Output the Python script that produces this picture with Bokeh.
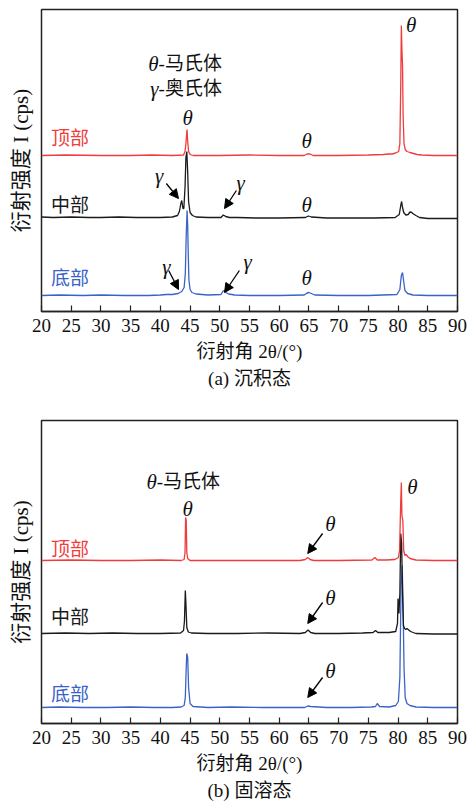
from bokeh.plotting import figure
from bokeh.layouts import column
from bokeh.models import Range1d, FixedTicker, Label, Arrow, NormalHead, Title
from bokeh.embed import file_html
from bokeh.resources import INLINE

# ---------------- data ----------------
# (a) as-deposited
a_top_x = [20, 24, 30, 35, 38.5, 42, 43.9, 44.15, 44.3, 44.4, 44.5, 44.6, 44.75, 45.0, 45.5, 50, 55, 60, 64.2, 64.7, 65.2, 65.7, 70, 75, 77.5, 78.5, 79.0, 79.6, 80.1, 80.3, 80.45, 80.55, 80.65, 80.75, 80.85, 81.0, 81.2, 81.5, 82.0, 82.6, 83.2, 84, 86, 90]
a_top_y = [0, 0.5, 0, 0, 0.5, 0, 0.5, 4, 12, 20, 26, 14, 4, 1, 0, 0, 0.5, 0, 0, 1.5, 1.5, 0, 0, 0.5, 1, 1.5, 1.5, 2.5, 4, 12, 70, 130, 105, 90, 40, 12, 6, 4, 3, 2, 1, 0.5, 0, 0]

a_mid_x = [20, 22, 25, 28, 30, 33, 36, 38, 40, 42, 42.9, 43.2, 43.45, 43.6, 43.8, 43.95, 44.15, 44.3, 44.45, 44.6, 44.75, 45.0, 45.4, 46, 48, 50.2, 50.6, 51.0, 51.6, 53, 56, 60, 64.4, 64.9, 65.4, 68, 72, 76, 79.5, 80.2, 80.45, 80.6, 80.75, 80.95, 81.3, 81.7, 82.0, 82.3, 82.6, 83.0, 83.6, 85, 87, 90]
a_mid_y = [0.5, 0, 0.5, 0, 0, 0.5, 0, 0, 0, 0.5, 2, 6, 14, 17, 9, 9, 30, 60, 66, 45, 16, 5, 2, 0.5, 0, 0, 2.5, 1, 0, 0, -0.5, -0.5, 0, 1.5, 0.5, -0.5, -0.5, -0.5, 0, 3, 12, 16, 10, 5, 2.5, 3, 5.5, 5, 3.5, 2, 0, -1, -1, -1]

a_bot_x = [20, 23, 27, 30, 34, 38, 40, 41, 42, 43, 43.6, 44.0, 44.2, 44.35, 44.5, 44.6, 44.7, 44.8, 45.0, 45.3, 46, 48, 50.2, 50.5, 50.75, 51.0, 51.5, 52.5, 55, 60, 64.2, 64.7, 65.0, 65.4, 66, 70, 75, 79.8, 80.3, 80.55, 80.75, 80.95, 81.15, 81.6, 82.5, 85, 90]
a_bot_y = [0, 0.5, 0, 0.5, 0, 0, 0.5, 1, 1, 2, 4, 8, 22, 60, 85, 70, 40, 16, 6, 3, 1.5, 0.5, 1, 4, 5, 3, 1.5, 0.5, 0, 0, 0.5, 2.5, 3, 2, 0.5, 0, 0, 1, 6, 20, 23, 14, 5, 2, 0.5, 0, 0]

# (b) solution treated
b_top_x = [20, 25, 30, 35, 40, 43.5, 44.0, 44.15, 44.25, 44.35, 44.45, 44.6, 45.0, 47, 52, 58, 63.5, 64.4, 64.8, 65.2, 65.8, 70, 75.6, 76.1, 76.5, 78, 79.5, 80.05, 80.25, 80.45, 80.55, 80.65, 80.8, 80.95, 81.15, 81.35, 81.6, 82.0, 83, 86, 90]
b_top_y = [0, 0.5, 0, 0, 0.5, 0, 1, 8, 43, 40, 8, 2, 0, 0, 0, 0, 0, 1, 3, 1, 0, 0, 0.5, 3, 0.5, 0.5, 1, 3, 10, 60, 78, 45, 40, 10, 5, 6, 4, 2, 0.5, 0, 0]

b_mid_x = [20, 24, 28, 32, 36, 40, 43.4, 43.9, 44.05, 44.2, 44.3, 44.45, 44.7, 45.2, 48, 53, 58, 63.5, 64.4, 64.85, 65.3, 66, 70, 74, 75.8, 76.2, 76.6, 78.5, 79.6, 79.9, 80.0, 80.15, 80.3, 80.45, 80.6, 80.75, 80.9, 81.1, 81.3, 81.5, 81.7, 82.1, 83, 86, 90]
b_mid_y = [0, 0.5, 0, 0.5, 0, 0, 0.5, 3, 12, 43, 30, 6, 1.5, 0.5, 0, 0, 0.5, 0, 1, 3.5, 1, 0, 0, 0.5, 1, 3, 1, 1, 2, 10, 35, 20, 40, 100, 90, 40, 8, 5, 4, 5, 4, 2, 0, -0.5, -0.5]

b_bot_x = [20, 23, 27, 31, 35, 39, 42, 43.5, 44.0, 44.2, 44.35, 44.45, 44.6, 44.75, 45.0, 45.5, 48, 52, 57, 62, 64.3, 64.8, 65.3, 68, 72, 75.5, 76.2, 76.5, 76.9, 78.5, 79.6, 80.05, 80.3, 80.5, 80.7, 80.85, 81.0, 81.2, 81.5, 82.0, 83, 86, 90]
b_bot_y = [0, 0.5, 0, 0, 0.5, 0, 0, 0.5, 2, 10, 40, 54, 50, 20, 4, 1, 0, 0.5, 0, 0, 0, 1.5, 1, 0, 0, 0.5, 1, 4, 1, 0.5, 2, 6, 30, 120, 142, 100, 40, 10, 4, 2, 0.5, 0, 0]

x_ticks = [20, 25, 30, 35, 40, 45, 50, 55, 60, 65, 70, 75, 80, 85, 90]
sample_names = ["顶部", "中部", "底部"]
x_label = "衍射角 2θ/(°)"
y_label = "衍射强度 I (cps)"
captions = ["(a) 沉积态", "(b) 固溶态"]

# ---------------- styles ----------------
RED = "#f03c3c"
BLACK = "#1a1a1a"
BLUE = "#3a62c8"
SERIF = "'Liberation Serif', 'Noto Sans CJK SC'"
CJK = "'Noto Sans CJK SC'"


def make_panel(traces, offsets, yr, top_border, frame_h, bottom_border, caption):
    p = figure(frame_width=416, frame_height=frame_h, x_range=Range1d(20, 90),
               y_range=Range1d(0, yr), output_backend="svg", toolbar_location=None,
               min_border_left=41, min_border_right=11, min_border_top=top_border,
               min_border_bottom=bottom_border)
    p.grid.visible = False
    p.outline_line_color = "#222222"
    p.outline_line_width = 1.5
    p.background_fill_color = "white"
    p.border_fill_color = "white"

    xa = p.xaxis[0]
    xa.ticker = FixedTicker(ticks=x_ticks)
    xa.major_tick_in = 6
    xa.major_tick_out = 0
    xa.minor_tick_line_color = None
    xa.major_tick_line_color = "#222222"
    xa.major_tick_line_width = 1.2
    xa.axis_line_color = "#222222"
    xa.axis_line_width = 1.5
    xa.major_label_text_font = "'Liberation Serif'"
    xa.major_label_text_font_size = "19px"
    xa.major_label_text_color = "#111111"
    xa.major_label_standoff = 7
    xa.axis_label = x_label
    xa.axis_label_text_font = SERIF
    xa.axis_label_text_font_size = "19px"
    xa.axis_label_text_font_style = "normal"
    xa.axis_label_text_color = "#111111"
    xa.axis_label_standoff = 6

    ya = p.yaxis[0]
    ya.ticker = FixedTicker(ticks=[])
    ya.axis_line_color = None
    ya.major_tick_line_color = None
    ya.minor_tick_line_color = None
    ya.axis_label = y_label
    ya.axis_label_text_font = SERIF
    ya.axis_label_text_font_size = "21px"
    ya.axis_label_text_font_style = "normal"
    ya.axis_label_text_color = "#111111"
    ya.axis_label_standoff = 9

    p.add_layout(Title(text=caption, align="center", text_font=SERIF,
                       text_font_size="19px", text_font_style="normal",
                       text_color="#111111", standoff=2), "below")

    colors = [RED, BLACK, BLUE]
    # draw bottom first so red is on top
    for (xs, ys), off, c in reversed(list(zip(traces, offsets, colors))):
        p.line([x for x in xs], [y + off for y in ys], line_color=c, line_width=1.3)
    return p


def add_text(p, x, y, text, color="#111111", italic=False, align="center", size="21px", font=SERIF):
    p.add_layout(Label(x=x, y=y, text=text, text_color=color,
                       text_font=font, text_font_size=size,
                       text_font_style="italic" if italic else "normal",
                       text_align=align, text_baseline="middle"))


def add_arrow(p, x0, y0, x1, y1):
    p.add_layout(Arrow(end=NormalHead(size=9, fill_color="black", line_color="black"),
                       x_start=x0, y_start=y0, x_end=x1, y_end=y1,
                       line_color="black", line_width=1.3))


# ---------------- panel (a) ----------------
pa = make_panel([(a_top_x, a_top_y), (a_mid_x, a_mid_y), (a_bot_x, a_bot_y)],
                [156, 94, 16], 302, 9, 302, 89, captions[0])
for name, yy, c in zip(sample_names, [175, 108, 35], [RED, BLACK, BLUE]):
    add_text(pa, 21.6, yy, name, color=c, align="left", size="19px", font=CJK)
add_text(pa, 39.7, 248, "θ", italic=True, align="right")
add_text(pa, 39.7, 248, "-马氏体", align="left", size="19px")
add_text(pa, 39.7, 223, "γ", italic=True, align="right")
add_text(pa, 39.7, 223, "-奥氏体", align="left", size="19px")
add_text(pa, 44.6, 194, "θ", italic=True)
add_text(pa, 64.6, 171, "θ", italic=True)
add_text(pa, 82.2, 287, "θ", italic=True)
add_text(pa, 64.6, 107, "θ", italic=True)
add_text(pa, 64.6, 34, "θ", italic=True)
add_text(pa, 39.8, 136, "γ", italic=True)
add_arrow(pa, 41.0, 128, 43.05, 113)
add_text(pa, 53.5, 129, "γ", italic=True)
add_arrow(pa, 52.8, 121, 50.8, 103)
add_text(pa, 41.0, 45, "γ", italic=True)
add_arrow(pa, 41.4, 41, 43.05, 22)
add_text(pa, 54.7, 50, "γ", italic=True)
add_arrow(pa, 53.3, 41, 50.8, 19)

# ---------------- panel (b) ----------------
pb = make_panel([(b_top_x, b_top_y), (b_mid_x, b_mid_y), (b_bot_x, b_bot_y)],
                [163, 90, 16], 303, 20, 303, 85, captions[1])
for name, yy, c in zip(sample_names, [176, 108, 31], [RED, BLACK, BLUE]):
    add_text(pb, 21.6, yy, name, color=c, align="left", size="19px", font=CJK)
add_text(pb, 39.4, 242, "θ", italic=True, align="right")
add_text(pb, 39.4, 242, "-马氏体", align="left", size="19px")
add_text(pb, 44.6, 215, "θ", italic=True)
add_text(pb, 82.4, 237, "θ", italic=True)
add_text(pb, 68.6, 200, "θ", italic=True)
add_arrow(pb, 67.3, 190, 64.8, 170)
add_text(pb, 68.6, 126, "θ", italic=True)
add_arrow(pb, 67.3, 121, 64.8, 100)
add_text(pb, 68.6, 53, "θ", italic=True)
add_arrow(pb, 67.3, 46, 64.8, 26)

layout = column(pa, pb, spacing=0)
open("out.html", "w").write(file_html(layout, INLINE))
